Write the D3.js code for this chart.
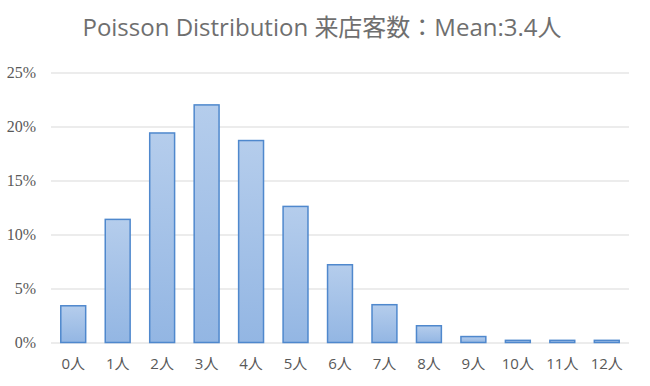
<!DOCTYPE html>
<html>
<head>
<meta charset="utf-8">
<script src="https://cdn.jsdelivr.net/npm/d3@7"></script>
<style>
  body { margin: 0; background: #fff; }
  svg { display: block; }
</style>
</head>
<body>
<div id="chart"></div>
<script>
const categories = ["0人", "1人", "2人", "3人", "4人", "5人", "6人", "7人", "8人", "9人", "10人", "11人", "12人"];
const probabilities = [0.034, 0.114, 0.194, 0.220, 0.187, 0.126, 0.072, 0.035, 0.0155, 0.0055, 0.002, 0.002, 0.002];
const yTicks = [0, 0.05, 0.10, 0.15, 0.20, 0.25];
const title = "Poisson Distribution 来店客数：Mean:3.4人";

const svg = d3.select("#chart")
    .append("svg")
    .attr("width", 650)
    .attr("height", 386);

let margin = {top: 72.5, right: 21, bottom: 43.5, left: 51},
    width = +svg.attr("width") - margin.left - margin.right,
    height = +svg.attr("height") - margin.top - margin.bottom;

let x = d3.scaleBand().domain(categories).range([0, width]).paddingInner(0.44).paddingOuter(0.22),
    y = d3.scaleLinear().domain([0, 0.25]).range([height, 0]);

const defs = svg.append("defs");
const grad = defs.append("linearGradient")
    .attr("id", "barGrad")
    .attr("x1", 0).attr("y1", 0).attr("x2", 0).attr("y2", 1);
grad.append("stop").attr("offset", "0%").attr("stop-color", "#b5cdec");
grad.append("stop").attr("offset", "100%").attr("stop-color", "#93b6e3");

svg.append("text")
    .attr("x", 322)
    .attr("y", 36)
    .attr("text-anchor", "middle")
    .attr("fill", "#6f6f6f")
    .style("font-family", "'Open Sans', 'Noto Sans CJK JP', sans-serif")
    .style("font-size", "24px")
    .text(title);

let g = svg.append("g")
    .attr("transform", "translate(" + margin.left + "," + margin.top + ")");

// gridlines + y labels
g.append("g")
    .call(d3.axisLeft(y).tickValues(yTicks).tickSize(-width).tickFormat(d3.format(".0%")).tickPadding(15))
    .call(a => a.select(".domain").remove())
    .call(a => a.selectAll("line").attr("stroke", "#d9d9d9").attr("stroke-width", 1.2))
    .call(a => a.selectAll("text")
        .attr("fill", "#595959")
        .style("font-family", "'Liberation Serif', 'DejaVu Serif', serif")
        .style("font-size", "16px"));

g.selectAll(".bar")
    .data(probabilities)
    .enter().append("rect")
    .attr("class", "bar")
    .attr("x", (d, i) => x(categories[i]))
    .attr("y", d => y(d))
    .attr("width", x.bandwidth())
    .attr("height", d => height - y(d))
    .attr("fill", "url(#barGrad)")
    .attr("stroke", "#4f88cd")
    .attr("stroke-width", 1.5);

g.append("g")
    .attr("transform", "translate(0," + height + ")")
    .call(d3.axisBottom(x).tickSize(0).tickPadding(16))
    .call(a => a.select(".domain").remove())
    .call(a => a.selectAll("text")
        .attr("fill", "#595959")
        .style("font-family", "'Open Sans', 'Noto Sans CJK JP', sans-serif")
        .style("font-size", "15px"));
</script>
</body>
</html>
